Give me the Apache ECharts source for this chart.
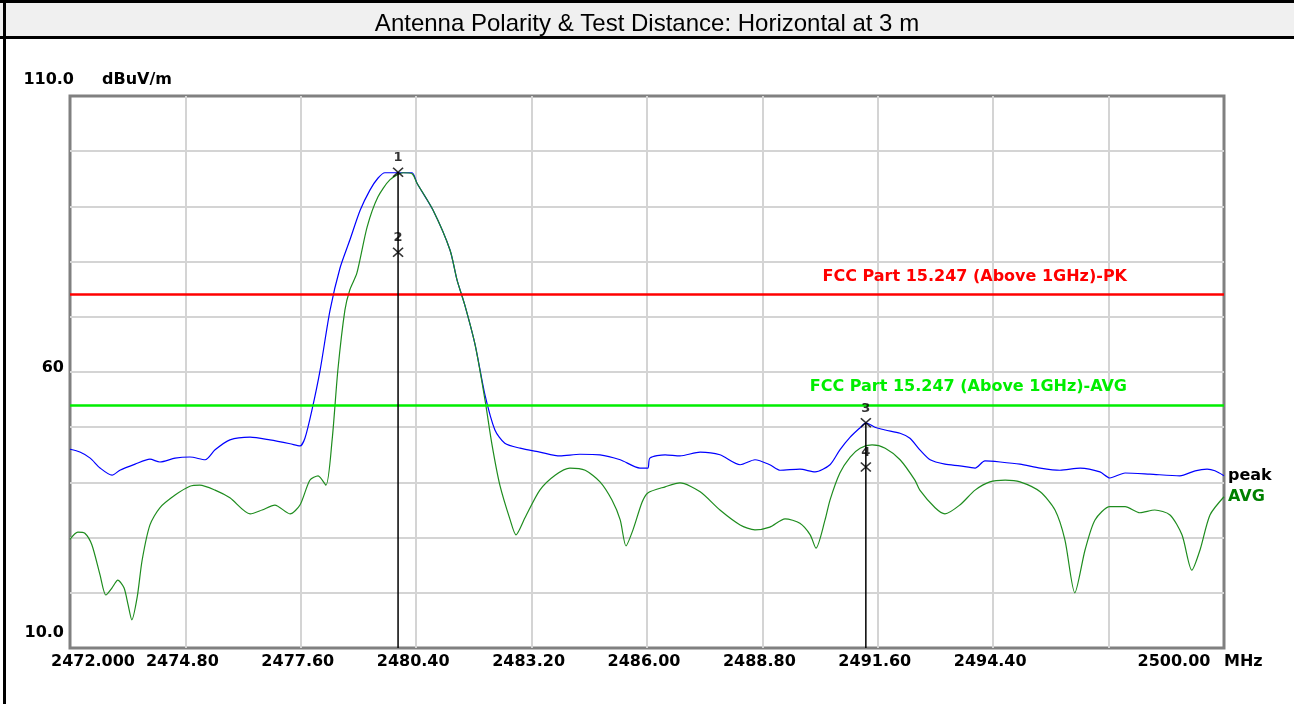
<!DOCTYPE html>
<html><head><meta charset="utf-8">
<script src="https://cdn.jsdelivr.net/npm/echarts@6/dist/echarts.min.js"></script>
<style>html,body{margin:0;padding:0;background:#fff}#c{width:1294px;height:704px}</style>
</head><body><div id="c"></div>
<script>
const titleText = 'Antenna Polarity & Test Distance: Horizontal at 3 m';
const xTickLabels = ['2472.000','2474.80','2477.60','2480.40','2483.20','2486.00','2488.80','2491.60','2494.40','','2500.00'];
const yTickLabels = {110: '110.0', 60: '60', 10: '10.0'};
const xUnit = 'MHz';
const yUnit = 'dBuV/m';

const peakFreq = [2472.00,2472.24,2472.49,2472.73,2473.02,2473.21,2473.58,2473.94,2474.18,2474.55,2474.91,2475.28,2475.52,2475.88,2476.37,2476.85,2477.34,2477.58,2477.70,2477.87,2478.07,2478.31,2478.55,2478.79,2479.04,2479.28,2479.47,2479.64,2479.96,2480.30,2480.42,2480.81,2481.22,2481.39,2481.58,2481.83,2482.07,2482.31,2482.55,2482.92,2483.40,2483.89,2484.37,2484.86,2485.35,2485.83,2486.02,2486.07,2486.44,2486.80,2487.29,2487.77,2488.26,2488.62,2488.98,2489.23,2489.71,2490.08,2490.44,2490.68,2490.93,2491.17,2491.31,2491.53,2491.78,2492.14,2492.38,2492.62,2492.87,2493.23,2493.59,2493.96,2494.20,2494.57,2495.05,2495.54,2496.02,2496.51,2496.99,2497.23,2497.60,2498.20,2498.93,2499.30,2499.59,2499.78,2500.00];
const peakLevel = [46.0,45.5,44.4,42.6,41.3,42.2,43.3,44.2,43.7,44.4,44.6,44.1,45.9,47.7,48.2,47.7,47.0,46.6,48.0,53.1,60.4,71.2,78.8,83.9,89.3,93.0,95.1,96.1,96.1,96.1,94.2,89.3,82.1,76.7,72.1,64.9,55.8,49.5,47.1,46.2,45.5,44.8,45.1,45.0,44.1,42.6,42.6,44.4,45.0,44.8,45.5,45.0,43.2,44.1,43.2,42.2,42.4,41.9,43.2,45.9,48.2,49.9,50.8,50.0,49.5,48.9,48.0,45.9,44.1,43.3,43.0,42.6,43.9,43.7,43.3,42.6,42.2,42.6,41.9,40.8,41.7,41.5,41.2,42.1,42.4,42.1,41.2];

const avgFreq = [2472.00,2472.19,2472.36,2472.53,2472.73,2472.87,2473.02,2473.16,2473.31,2473.41,2473.50,2473.63,2473.75,2473.94,2474.18,2474.55,2474.91,2475.15,2475.52,2475.88,2476.37,2476.66,2476.97,2477.34,2477.58,2477.82,2478.02,2478.21,2478.36,2478.50,2478.67,2478.79,2478.96,2479.21,2479.47,2479.76,2480.08,2480.30,2480.42,2480.81,2481.22,2481.39,2481.58,2481.83,2482.07,2482.24,2482.43,2482.68,2482.82,2483.04,2483.40,2483.77,2484.13,2484.50,2484.86,2485.15,2485.35,2485.49,2485.66,2485.88,2486.02,2486.44,2486.80,2487.29,2487.77,2488.26,2488.62,2488.98,2489.35,2489.71,2489.96,2490.10,2490.32,2490.44,2490.68,2490.93,2491.17,2491.46,2491.78,2492.14,2492.50,2492.62,2492.99,2493.23,2493.59,2493.96,2494.32,2494.69,2495.05,2495.54,2495.90,2496.14,2496.38,2496.63,2496.87,2497.23,2497.60,2497.96,2498.32,2498.69,2498.98,2499.22,2499.42,2499.66,2500.00];
const avgLevel = [29.7,31.0,30.8,28.7,23.2,19.6,20.9,22.3,20.9,17.8,15.1,19.2,25.9,32.3,35.4,37.7,39.3,39.5,38.6,37.2,34.3,35.0,35.9,34.3,35.9,40.4,41.2,39.5,47.7,60.4,71.2,74.9,77.9,86.3,91.7,94.8,96.1,95.9,94.2,89.3,82.1,76.7,72.1,64.9,54.9,46.8,39.5,33.2,30.5,33.6,38.6,41.3,42.6,42.2,40.1,36.8,33.2,28.5,31.4,36.4,38.1,39.2,39.9,38.3,35.0,32.3,31.4,31.9,33.4,32.6,30.5,28.1,33.2,36.8,41.7,44.6,46.2,46.8,46.2,44.1,40.4,38.6,35.4,34.3,35.9,38.6,40.1,40.4,40.1,38.3,35.0,29.6,20.0,27.8,33.2,35.6,35.6,34.5,35.0,34.1,30.5,24.1,27.8,34.1,37.4];

const limitNames = ['FCC Part 15.247 (Above 1GHz)-PK', 'FCC Part 15.247 (Above 1GHz)-AVG'];
const limitLevels = [74, 54];
const limitColors = ['#ff0000', '#00ee00'];

const markerIds = ['1', '2', '3', '4'];
const markerFreq = [2479.96, 2479.96, 2491.31, 2491.31];
const markerLevel = [96.2, 81.7, 50.8, 42.8];

const FONT = 'DejaVu Sans';
const FS = 16;
const chart = echarts.init(document.getElementById('c'), null, {renderer: 'canvas'});

const peakData = peakFreq.map((f, i) => [f, peakLevel[i]]);
const avgData = avgFreq.map((f, i) => [f, avgLevel[i]]);

const yMin = 10, yMax = 110;
const vlineData = [];
const seen = {};
markerFreq.forEach((f) => {
  if (seen[f]) return;
  seen[f] = true;
  const top = Math.max(...markerFreq.map((g, j) => g === f ? markerLevel[j] : -Infinity));
  if (vlineData.length) vlineData.push('-');
  vlineData.push([f, top], [f, yMin]);
});

const lbl = (extra) => Object.assign({fontFamily: FONT, fontWeight: 'bold', fontSize: FS, color: '#000'}, extra);

const option = {
  animation: false,
  backgroundColor: '#ffffff',
  title: {
    text: titleText, left: 'center', top: 7,
    textStyle: {fontFamily: 'Liberation Sans', fontWeight: 'normal', fontSize: 24, color: '#000'}
  },
  graphic: [
    {type: 'rect', z: 0, shape: {x: 0, y: 0, width: 1294, height: 39}, style: {fill: '#f0f0f0'}},
    {type: 'line', z: 1, shape: {x1: 0, y1: 1.5, x2: 1294, y2: 1.5}, style: {stroke: '#000', lineWidth: 3}},
    {type: 'line', z: 1, shape: {x1: 0, y1: 37.5, x2: 1294, y2: 37.5}, style: {stroke: '#000', lineWidth: 3}},
    {type: 'line', z: 1, shape: {x1: 4.5, y1: 0, x2: 4.5, y2: 704}, style: {stroke: '#000', lineWidth: 3}}
  ],
  grid: {left: 70, right: 70, top: 96, bottom: 56, show: true, borderColor: '#808080', borderWidth: 3, backgroundColor: '#fff'},
  xAxis: {
    type: 'value', min: 2472, max: 2500, interval: 2.8,
    name: xUnit, nameLocation: 'end', nameGap: 0,
    nameTextStyle: lbl({align: 'left', verticalAlign: 'top', padding: [6, 0, 0, 0]}),
    axisLine: {show: false}, axisTick: {show: false},
    splitLine: {show: true, showMinLine: false, showMaxLine: false, lineStyle: {color: '#d4d4d4', width: 2}},
    axisLabel: Object.assign(lbl({}), {
      show: true, margin: 6, showMinLabel: true, showMaxLabel: true,
      formatter: v => {
        const i = Math.round((v - 2472) / 2.8);
        const t = xTickLabels[i];
        if (!t) return '';
        if (i === 0) return '{f|' + t + '}';
        if (i === xTickLabels.length - 1) return '{l|' + t + '}';
        return '{m|' + t + '}';
      },
      rich: {
        f: lbl({padding: [0, 0, 0, 46]}),
        l: lbl({padding: [0, 100, 0, 0]}),
        m: lbl({padding: [0, 6, 0, 0]})
      }
    })
  },
  yAxis: {
    type: 'value', min: yMin, max: yMax, interval: 10,
    name: yUnit, nameLocation: 'end', nameGap: 16,
    nameTextStyle: lbl({align: 'left', verticalAlign: 'middle', padding: [0, 0, 0, 32]}),
    axisLine: {show: false}, axisTick: {show: false},
    splitLine: {show: true, showMinLine: false, showMaxLine: false, lineStyle: {color: '#d4d4d4', width: 2}},
    axisLabel: Object.assign(lbl({}), {
      show: true, margin: -4, showMinLabel: true, showMaxLabel: true,
      formatter: v => {
        const t = yTickLabels[v];
        if (!t) return '';
        const k = v === yMax ? 'a' : (v === yMin ? 'c' : 'b');
        return '{' + k + '|' + t + '}';
      },
      rich: {
        a: lbl({padding: [0, 0, 32, 0]}),
        b: lbl({padding: [0, 10, 8, 0]}),
        c: lbl({padding: [0, 10, 30, 0]})
      }
    })
  },
  series: [
    {
      name: 'peak', type: 'line', data: peakData, showSymbol: false, smooth: 0.25,
      lineStyle: {color: '#0000ff', width: 1.2}, z: 3,
      endLabel: lbl({show: true, formatter: 'peak', distance: 4}),
      markLine: {
        symbol: 'none', silent: true, animation: false,
        data: limitLevels.map((lv, i) => ({
          yAxis: lv,
          lineStyle: {color: limitColors[i], width: 2.5, type: 'solid'},
          label: lbl({
            show: true, position: 'insideEndTop', formatter: limitNames[i], distance: 5,
            padding: [0, 92, 5, 0], color: limitColors[i]
          })
        }))
      }
    },
    {
      name: 'AVG', type: 'line', data: avgData, showSymbol: false, smooth: 0.25,
      lineStyle: {color: '#1e8c1e', width: 1.2}, z: 4,
      endLabel: lbl({show: true, formatter: 'AVG', distance: 4, color: '#008000'})
    },
    {
      name: 'markerLines', type: 'line', data: vlineData, showSymbol: false, connectNulls: false,
      lineStyle: {color: '#000', width: 1.5}, z: 5, silent: true
    },
    {
      name: 'markers', type: 'scatter', z: 6,
      data: markerFreq.map((f, i) => ({value: [f, markerLevel[i]], name: markerIds[i]})),
      symbol: 'path://M0,0L10,9M10,0L0,9', symbolSize: [10, 9],
      itemStyle: {color: 'none', borderColor: '#000', borderWidth: 1.6},
      label: lbl({show: true, position: 'top', distance: 1, formatter: p => p.name, fontSize: 13})
    }
  ]
};
chart.setOption(option);
</script>
</body></html>
